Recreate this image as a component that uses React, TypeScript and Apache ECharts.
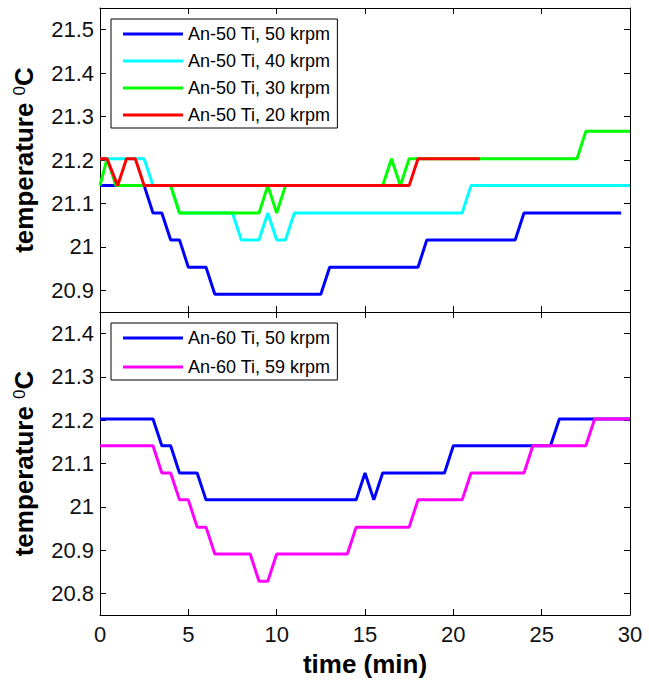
import { useEffect, useRef } from 'react';
import * as echarts from 'echarts';

// ---------- data ----------
const timeTicks = [0, 5, 10, 15, 20, 25, 30];
const topTicks = [20.9, 21, 21.1, 21.2, 21.3, 21.4, 21.5];
const bottomTicks = [20.8, 20.9, 21, 21.1, 21.2, 21.3, 21.4];

const topNames = ['An-50 Ti, 50 krpm', 'An-50 Ti, 40 krpm', 'An-50 Ti, 30 krpm', 'An-50 Ti, 20 krpm'];
const bottomNames = ['An-60 Ti, 50 krpm', 'An-60 Ti, 59 krpm'];

// [time (min), temperature (°C)]
const an50_50krpm = [
  [0, 21.141], [2.5, 21.141], [3, 21.078], [3.5, 21.078], [4, 21.016], [4.5, 21.016],
  [5, 20.953], [6, 20.953], [6.5, 20.891], [12.5, 20.891], [13, 20.953], [18, 20.953],
  [18.5, 21.016], [23.5, 21.016], [24, 21.078], [29.5, 21.078],
];
const an50_40krpm = [
  [0, 21.203], [2.5, 21.203], [3, 21.141], [4, 21.141], [4.5, 21.078], [7.5, 21.078],
  [8, 21.016], [9, 21.016], [9.5, 21.078], [10, 21.016], [10.5, 21.016], [11, 21.078],
  [20.5, 21.078], [21, 21.141], [30, 21.141],
];
const an50_30krpm = [
  [0, 21.141], [0.4, 21.203], [0.9, 21.141], [4, 21.141], [4.5, 21.078], [9, 21.078],
  [9.5, 21.141], [10, 21.078], [10.5, 21.141], [16, 21.141], [16.5, 21.203], [17, 21.141],
  [17.5, 21.203], [27, 21.203], [27.5, 21.266], [30, 21.266],
];
const an50_20krpm = [
  [0, 21.203], [0.4, 21.203], [1, 21.141], [1.5, 21.203], [2, 21.203], [2.5, 21.141],
  [17.5, 21.141], [18, 21.203], [21.5, 21.203],
];
const an60_50krpm = [
  [0, 21.203], [3, 21.203], [3.5, 21.141], [4, 21.141], [4.5, 21.078], [5.5, 21.078],
  [6, 21.016], [14.5, 21.016], [15, 21.078], [15.5, 21.016], [16, 21.078], [19.5, 21.078],
  [20, 21.141], [25.5, 21.141], [26, 21.203], [30, 21.203],
];
const an60_59krpm = [
  [0, 21.141], [3, 21.141], [3.5, 21.078], [4, 21.078], [4.5, 21.016], [5, 21.016],
  [5.5, 20.953], [6, 20.953], [6.5, 20.891], [8.5, 20.891], [9, 20.828], [9.5, 20.828],
  [10, 20.891], [14, 20.891], [14.5, 20.953], [17.5, 20.953], [18, 21.016], [20.5, 21.016],
  [21, 21.078], [24, 21.078], [24.5, 21.141], [27.5, 21.141], [28, 21.203], [30, 21.203],
];

const topColors = ['#0000ff', '#00ffff', '#00ff00', '#ff0000'];
const bottomColors = ['#0000ff', '#ff00ff'];

const FONT = 'Liberation Sans, Arial, sans-serif';

const fmt = (v: number) => String(+Number(v).toFixed(1));

function yAxisPair(gridIndex: number, min: number, max: number, ticks: number[]) {
  const common = {
    type: 'value',
    gridIndex,
    min,
    max,
    splitLine: { show: false },
    axisLine: { show: true, onZero: false, lineStyle: { color: '#000', width: 1 } },
    axisTick: { show: true, inside: true, length: 6, customValues: ticks, lineStyle: { color: '#000' } },
  };
  return [
    {
      ...common,
      position: 'left',
      axisLabel: {
        show: true,
        customValues: ticks,
        formatter: fmt,
        fontSize: 22,
        fontFamily: FONT,
        color: '#111',
        margin: 6,
      },
      name: '{t|temperature }{s|0}{t|C}',
      nameLocation: 'middle',
      nameGap: 63,
      nameTextStyle: {
        rich: {
          t: { fontSize: 26, fontWeight: 'bold', fontFamily: FONT, color: '#000' },
          s: { fontSize: 17, fontFamily: FONT, color: '#000', verticalAlign: 'top' },
        },
      },
    },
    { ...common, position: 'right', axisLabel: { show: false } },
  ];
}

function xAxisPair(gridIndex: number, showLabels: boolean) {
  const common = {
    type: 'value',
    gridIndex,
    min: 0,
    max: 30,
    interval: 5,
    splitLine: { show: false },
    axisLine: { show: true, onZero: false, lineStyle: { color: '#000', width: 1 } },
    axisTick: { show: true, inside: true, length: 6, lineStyle: { color: '#000' } },
  };
  const bottom: any = {
    ...common,
    position: 'bottom',
    axisLabel: {
      show: showLabels,
      fontSize: 22,
      fontFamily: FONT,
      color: '#111',
      margin: 8,
      customValues: timeTicks,
    },
  };
  if (showLabels) {
    bottom.name = 'time (min)';
    bottom.nameLocation = 'middle';
    bottom.nameGap = 36;
    bottom.nameTextStyle = { fontSize: 26, fontWeight: 'bold', fontFamily: FONT, color: '#000' };
  }
  return [bottom, { ...common, position: 'top', axisLabel: { show: false } }];
}

function lineSeries(name: string, data: number[][], color: string, axisIndex: number) {
  return {
    type: 'line',
    name,
    data,
    xAxisIndex: axisIndex,
    yAxisIndex: axisIndex,
    showSymbol: false,
    symbol: 'none',
    color,
    lineStyle: { color, width: 3 },
    itemStyle: { color },
    silent: true,
  };
}

const legendCommon = {
  orient: 'vertical',
  icon: 'rect',
  itemWidth: 60,
  itemHeight: 3,
  backgroundColor: '#fff',
  borderColor: '#000',
  borderWidth: 1,
  borderRadius: 0,
  selectedMode: false,
  textStyle: { fontSize: 18, fontFamily: FONT, color: '#000' },
};

export default function App() {
  const ref = useRef<HTMLDivElement>(null);
  useEffect(() => {
    if (!ref.current) return;
    const chart = echarts.init(ref.current, undefined, { renderer: 'svg' });
    const topData = [an50_50krpm, an50_40krpm, an50_30krpm, an50_20krpm];
    const bottomData = [an60_50krpm, an60_59krpm];
    chart.setOption({
      animation: false,
      backgroundColor: '#fff',
      grid: [
        { left: 100, right: 19, top: 8, height: 304 },
        { left: 100, right: 19, top: 312, height: 303 },
      ],
      xAxis: [...xAxisPair(0, false), ...xAxisPair(1, true)],
      yAxis: [...yAxisPair(0, 20.85, 21.55, topTicks), ...yAxisPair(1, 20.75, 21.45, bottomTicks)],
      legend: [
        { ...legendCommon, data: topNames, left: 111, top: 19, padding: [6, 7, 4, 12], itemGap: 9 },
        { ...legendCommon, data: bottomNames, left: 111, top: 323, padding: [6, 7, 4, 12], itemGap: 11 },
      ],
      series: [
        ...topNames.map((n, i) => lineSeries(n, topData[i], topColors[i], 0)),
        ...bottomNames.map((n, i) => lineSeries(n, bottomData[i], bottomColors[i], 2)),
      ],
    });
    return () => chart.dispose();
  }, []);
  return (
    <div
      ref={ref}
      style={{ position: 'absolute', left: 0, top: 0, width: 649, height: 689 }}
    />
  );
}
